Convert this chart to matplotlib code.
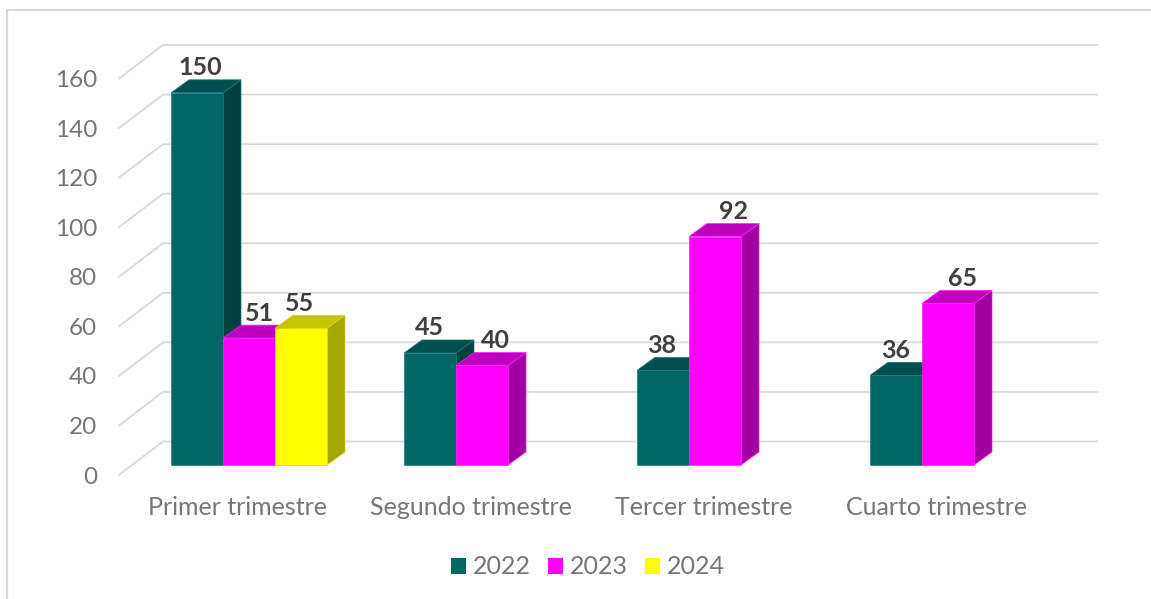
#!/usr/bin/env python3
#
# 3D looking bars per quarter, faked with polygons on a normal 2D axes
#
import matplotlib
matplotlib.use('Agg')
import matplotlib.pyplot as plt
from matplotlib.lines import Line2D
from matplotlib.patches import Patch, Polygon

plt.rcParams['font.family'] = ['Lato', 'DejaVu Sans']

quarters = ['Primer trimestre', 'Segundo trimestre', 'Tercer trimestre', 'Cuarto trimestre']
years = ['2022', '2023', '2024']
values_2022 = [150, 45, 38, 36]
values_2023 = [51, 40, 92, 65]
values_2024 = [55, None, None, None]
y_ticks = [0, 20, 40, 60, 80, 100, 120, 140, 160]

# front, side, top, edge
colors = [('#006666', '#004040', '#004f4f', '#1f7a7a'),
          ('#ff00ff', '#a000a0', '#bf00bf', '#ff22ff'),
          ('#ffff00', '#a6a600', '#c4c400', '#d8d810')]
# label shift in pixels, from the centre of the bar
label_shift = [[3, -1, -1, 0], [10, 13, 19, 15], [-1, 0, 0, 0]]

W, H = 1151, 599
PX_X = 233.0      # pixels per category
PX_Y = 2.478      # pixels per unit


def px(p):
    return p * 72 / 100


fig = plt.figure(figsize=(W / 100, H / 100), dpi=100)
ax = fig.add_axes([119 / W, (H - 475) / H, (1097 - 119) / W, (475 - 40) / H])
ax.set_xlim((119 - 249) / PX_X, (1097 - 249) / PX_X)
ax.set_ylim(0, 435 / PX_Y)
for s in ax.spines.values():
    s.set_visible(False)

# outer frame, only top and left are visible
fig.add_artist(Line2D([7 / W, 7 / W, 1], [0, 1 - 10 / H, 1 - 10 / H], color='#d9d9d9', lw=1.6))

# floor and wall lines
wall_dx = 44 / PX_X
wall_dy = 33.5 / PX_Y
x0 = ax.get_xlim()[0]
x1 = ax.get_xlim()[1]
for v in y_ticks:
    ax.plot([x0, x0 + wall_dx, x1], [v, v + wall_dy, v + wall_dy], color='#d9d9d9', lw=1.3,
            clip_on=False, zorder=1, solid_joinstyle='miter')

# bars
bar_w = 52 / PX_X
depth_x = 18 / PX_X
depth_y = 13 / PX_Y
lift = 10.5 / PX_Y
base = lift - 0.2
series = [values_2022, values_2023, values_2024]
z = 3
for i in range(len(quarters)):
    for j, vals in enumerate(series):
        v = vals[i]
        if v is None:
            continue
        front, side, top, edge = colors[j]
        left = i + (j - 1) * bar_w - bar_w / 2
        right = left + bar_w
        h = v + lift
        ax.add_patch(Polygon([(right, base), (right + depth_x, base + depth_y),
                              (right + depth_x, h + depth_y), (right, h)],
                             facecolor=side, edgecolor=edge, lw=0.5, zorder=z, clip_on=False))
        ax.add_patch(Polygon([(left, h), (left + depth_x, h + depth_y),
                              (right + depth_x, h + depth_y), (right, h)],
                             facecolor=top, edgecolor=edge, lw=0.5, zorder=z, clip_on=False))
        ax.bar(left + bar_w / 2, h - base, bar_w, bottom=base, color=front, edgecolor=edge,
               lw=0.5, zorder=z + 0.5, clip_on=False)
        z += 1
        ax.annotate(str(v), (left + bar_w / 2, h), xytext=(px(label_shift[j][i]), px(25)),
                    textcoords='offset points', ha='center', va='center', fontsize=18,
                    fontweight='bold', color='#404040', zorder=50, annotation_clip=False)

ax.set_yticks(y_ticks)
ax.set_xticks([i - 11 / PX_X for i in range(len(quarters))])
ax.set_xticklabels(quarters)
ax.tick_params(axis='y', length=0, pad=px(22), labelsize=17.5, labelcolor='#767676')
ax.tick_params(axis='x', length=0, pad=px(21), labelsize=18, labelcolor='#767676')

handles = [Patch(facecolor=colors[k][0], label=years[k]) for k in range(3)]
fig.legend(handles=handles, loc='center', bbox_to_anchor=(588 / W, 1 - 567 / H), ncol=3, frameon=False,
           fontsize=18, labelcolor='#767676', handlelength=0.6, handleheight=0.6,
           handletextpad=0.28, columnspacing=0.68)

fig.savefig('out.png', dpi=100, facecolor='white')
